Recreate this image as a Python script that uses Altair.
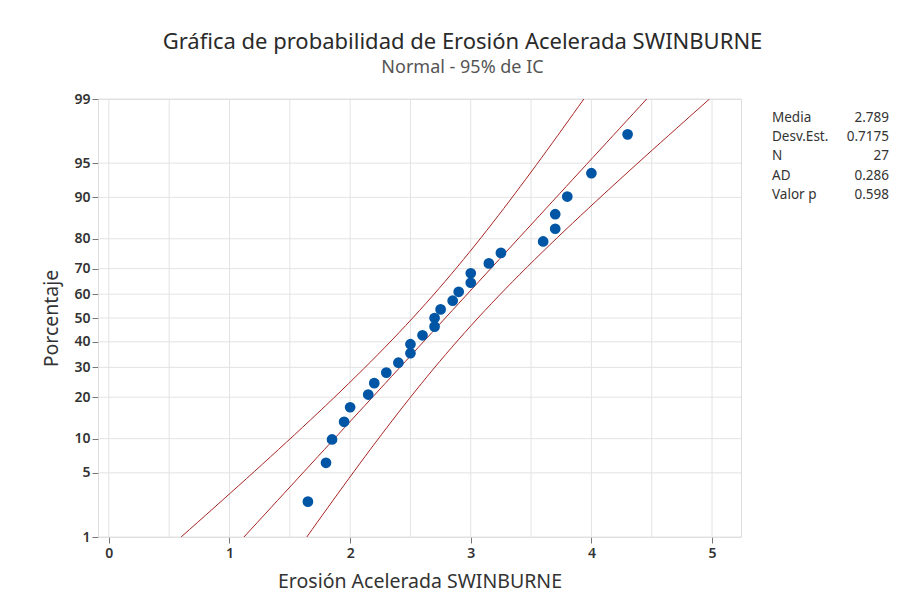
import altair as alt
import pandas as pd
from statistics import NormalDist

# ---- data ----
erosion = [1.65, 1.80, 1.85, 1.95, 2.00, 2.15, 2.20, 2.30, 2.40, 2.50, 2.50,
           2.60, 2.70, 2.70, 2.75, 2.85, 2.90, 3.00, 3.00, 3.15, 3.25, 3.60,
           3.70, 3.70, 3.80, 4.00, 4.30]
media = 2.789
desv = 0.7175
n_obs = 27
percent_ticks = [1, 5, 10, 20, 30, 40, 50, 60, 70, 80, 90, 95, 99]
x_ticks = [0, 1, 2, 3, 4, 5]
x_grid = [0, 0.5, 1, 1.5, 2, 2.5, 3, 3.5, 4, 4.5, 5]
stat_labels = ["Media", "Desv.Est.", "N", "AD", "Valor p"]
stat_values = ["2.789", "0.7175", "27", "0.286", "0.598"]

nd = NormalDist()
zmin, zmax = nd.inv_cdf(0.01), nd.inv_cdf(0.99)
z_ticks = [nd.inv_cdf(p / 100) for p in percent_ticks]

# plotting positions (median ranks)
xs = sorted(erosion)
pts = pd.DataFrame({
    "x": xs,
    "z": [nd.inv_cdf((i + 1 - 0.3) / (n_obs + 0.4)) for i in range(len(xs))],
})

# fitted line and 95% confidence bands
rows = []
steps = 60
for k in range(steps + 1):
    z = zmin + (zmax - zmin) * k / steps
    fit = media + desv * z
    se = (desv ** 2 / n_obs + z ** 2 * desv ** 2 / (2 * n_obs)) ** 0.5
    rows.append({"z": z, "x": fit, "s": "fit"})
    rows.append({"z": z, "x": fit - 1.96 * se, "s": "lo"})
    rows.append({"z": z, "x": fit + 1.96 * se, "s": "hi"})
lines = pd.DataFrame(rows)

FONT = "Noto Sans"
W, H = 643, 438
xscale = alt.Scale(domain=[-0.09, 5.24], nice=False, zero=False)
yscale = alt.Scale(domain=[zmin, zmax], nice=False, zero=False)

X_AX = alt.Axis(values=x_ticks, grid=False, title="Erosión Acelerada SWINBURNE",
                format="d", labelOverlap=False,
                labelFontSize=14, labelColor="#333", labelFont=FONT,
                labelFontWeight=600,
                titleFont=FONT, titleFontSize=19.5, titleColor="#333",
                titleFontWeight="normal", titlePadding=12,
                tickSize=6, tickColor="#777", labelPadding=3,
                domain=False)
Y_AX = alt.Axis(values=z_ticks, grid=False, title="Porcentaje",
                labelExpr="round(cumulativeNormal(datum.value) * 100)",
                labelOverlap=False,
                labelFontSize=14, labelColor="#333", labelFont=FONT,
                labelFontWeight=600,
                titleFont=FONT, titleFontSize=19.5, titleColor="#333",
                titleFontWeight="normal", titlePadding=12,
                tickSize=6, tickColor="#777", labelPadding=2,
                domain=False)

grid_v = alt.Chart(pd.DataFrame({"g": x_grid})).mark_rule(
    color="#e3e3e3", strokeWidth=1
).encode(x=alt.X("g:Q", scale=xscale, axis=X_AX))

grid_h = alt.Chart(pd.DataFrame({"g": z_ticks})).mark_rule(
    color="#e3e3e3", strokeWidth=1
).encode(y=alt.Y("g:Q", scale=yscale, axis=Y_AX))

line_layer = alt.Chart(lines).mark_line(
    color="#a82424", strokeWidth=1, clip=True
).encode(
    x=alt.X("x:Q", scale=xscale, axis=X_AX),
    y=alt.Y("z:Q", scale=yscale, axis=Y_AX),
    detail="s:N",
    order="z:Q",
)

point_layer = alt.Chart(pts).mark_circle(
    color="#0055a5", opacity=1, size=115
).encode(x=alt.X("x:Q", scale=xscale, axis=X_AX),
         y=alt.Y("z:Q", scale=yscale, axis=Y_AX))

stat_lab = alt.Chart(pd.DataFrame({"k": [0]})).mark_text(
    align="left", baseline="top", font=FONT, fontSize=13.5, color="#333",
    lineHeight=19.2
).encode(x=alt.value(W + 31), y=alt.value(12), text=alt.value(stat_labels))

stat_val = alt.Chart(pd.DataFrame({"k": [0]})).mark_text(
    align="right", baseline="top", font=FONT, fontSize=13.5, color="#333",
    lineHeight=19.2
).encode(x=alt.value(W + 148), y=alt.value(12), text=alt.value(stat_values))

chart = alt.layer(grid_v, grid_h, line_layer, point_layer, stat_lab, stat_val).properties(
    width=W, height=H,
    autosize=alt.AutoSizeParams(type="none"),
    padding={"left": 90, "top": 91, "right": 150, "bottom": 60},
    title=alt.TitleParams(
        text="Gráfica de probabilidad de Erosión Acelerada SWINBURNE",
        subtitle="Normal - 95% de IC",
        anchor="middle", dx=43, offset=14,
        font=FONT, fontSize=22, fontWeight="normal", color="#2a2a2a",
        subtitleFont=FONT, subtitleFontSize=18, subtitleColor="#555",
        subtitlePadding=5,
    ),
).configure_view(stroke="#999999", strokeWidth=1.5).configure_axis(
    labelOverlap=False
).configure(background="white")

chart.save("out.html", embed_options={"renderer": "svg", "actions": False})
